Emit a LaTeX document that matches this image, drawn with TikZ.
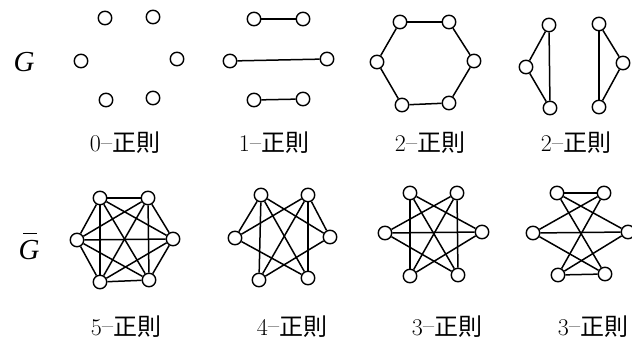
\documentclass[tikz,border=0pt]{standalone}
\usepackage{fontspec}
\newfontfamily\cjk{Noto Sans CJK JP}
\newfontfamily\tms{Liberation Serif}
\begin{document}
\begin{tikzpicture}[x=1pt,y=-1pt,
  vtx/.style={circle,draw,line width=1.4pt,minimum size=13.5pt,inner sep=0pt,fill=white},
  edge/.style={line width=1.5pt},
  glabel/.style={anchor=base,inner sep=0pt,font=\tms\itshape\fontsize{29}{32}\selectfont},
  reg/.style={anchor=base,inner sep=0pt,font=\fontsize{24}{28}\selectfont}]
\useasboundingbox (0,0) rectangle (632,342);

% row labels
\node[glabel] (gtop) at (24,72) {G};
\node[glabel] (gbot) at (29,259) {G};
\draw[line width=1.1pt] ([xshift=-6pt,yshift=6pt]gbot.north) -- ([xshift=8pt,yshift=6pt]gbot.north);

% 0-regular: six isolated vertices
\foreach \i/\x/\y in {1/105/18,2/153/17,3/177/59,4/153/98,5/106/100,6/81/61}
  \node[vtx] (a\i) at (\x,\y) {};

% 1-regular: perfect matching
\foreach \i/\x/\y in {1/254/19,2/303/19,3/327/59,4/303/99,5/254/100,6/230/61}
  \node[vtx] (b\i) at (\x,\y) {};
\foreach \u/\v in {1/2,6/3,5/4} \draw[edge] (b\u) -- (b\v);

% 2-regular: hexagon
\foreach \i/\x/\y in {1/400/22,2/449/22,3/474/61,4/449/103,5/402/105,6/377/62}
  \node[vtx] (c\i) at (\x,\y) {};
\foreach \u/\v in {1/2,2/3,3/4,4/5,5/6,6/1} \draw[edge] (c\u) -- (c\v);

% 2-regular: two triangles
\foreach \i/\x/\y in {1/549/25,2/599/24,3/623/63,4/599/107,5/550/108,6/526/67}
  \node[vtx] (d\i) at (\x,\y) {};
\foreach \u/\v in {1/6,6/5,5/1,2/3,3/4,4/2} \draw[edge] (d\u) -- (d\v);

% complement of 0-regular: K6
\foreach \i/\x/\y in {1/100/198,2/148/198,3/173/239,4/149/280,5/100/282,6/77/240}
  \node[vtx] (e\i) at (\x,\y) {};
\foreach \u/\v in {1/2,1/3,1/4,1/5,1/6,2/3,2/4,2/5,2/6,3/4,3/5,3/6,4/5,4/6,5/6}
  \draw[edge] (e\u) -- (e\v);

% complement of the matching
\foreach \i/\x/\y in {1/261/195,2/308/195,3/330/237,4/308/278,5/259/280,6/235/238}
  \node[vtx] (f\i) at (\x,\y) {};
\foreach \u/\v in {1/3,1/4,1/5,1/6,2/3,2/4,2/5,2/6,3/5,4/6}
  \draw[edge] (f\u) -- (f\v);

% complement of the hexagon
\foreach \i/\x/\y in {1/410/193,2/457/193,3/482/232,4/458/275,5/410/276,6/385/233}
  \node[vtx] (g\i) at (\x,\y) {};
\foreach \u/\v in {1/3,1/4,1/5,2/4,2/5,2/6,3/5,3/6,4/6}
  \draw[edge] (g\u) -- (g\v);

% complement of two triangles: K3,3
\foreach \i/\x/\y in {1/557/193,2/604/193,3/628/232,4/605/274,5/558/275,6/533/233}
  \node[vtx] (h\i) at (\x,\y) {};
\foreach \u in {1,5,6}
  \foreach \v in {2,3,4}
    \draw[edge] (h\u) -- (h\v);

% regularity labels
\node[reg] (la) at (125,152) {0\raisebox{1.5pt}{\textendash}{\cjk 正則}};
\node[reg] (lb) at (274,152) {1\raisebox{1.5pt}{\textendash}{\cjk 正則}};
\node[reg] (lc) at (430,152) {2\raisebox{1.5pt}{\textendash}{\cjk 正則}};
\node[reg] (ld) at (576,152) {2\raisebox{1.5pt}{\textendash}{\cjk 正則}};
\node[reg] (le) at (126,335) {5\raisebox{1.5pt}{\textendash}{\cjk 正則}};
\node[reg] (lf) at (292,335) {4\raisebox{1.5pt}{\textendash}{\cjk 正則}};
\node[reg] (lg) at (447,335) {3\raisebox{1.5pt}{\textendash}{\cjk 正則}};
\node[reg] (lh) at (593,335) {3\raisebox{1.5pt}{\textendash}{\cjk 正則}};
\end{tikzpicture}
\end{document}
